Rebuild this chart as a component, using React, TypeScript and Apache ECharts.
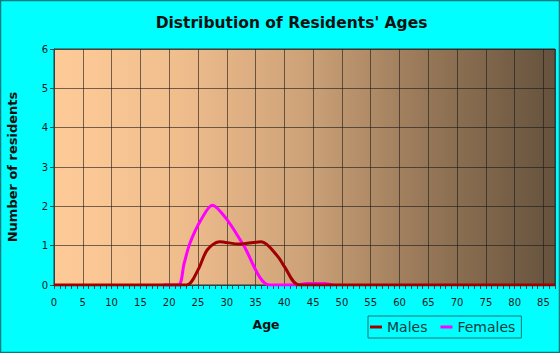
import React, { useEffect, useRef } from "react";
import * as echarts from "echarts";

const titleText = "Distribution of Residents' Ages";
const xName = "Age";
const yName = "Number of residents";
const seriesNames = ["Males", "Females"];

const maleAges = [0, 23, 25, 26.6, 28.7, 32.2, 36, 38.9, 40, 42.6, 87];
const maleCounts = [0, 0, 0.38, 0.89, 1.1, 1.04, 1.1, 0.72, 0.47, 0, 0];

const femaleAges = [19, 21.6, 22.6, 23.6, 25.5, 27.5, 30.1, 32.8, 37.4, 42, 44, 47, 48.5];
const femaleCounts = [0, 0, 0.55, 1.06, 1.65, 2.03, 1.65, 1.04, 0, 0, 0.04, 0.04, 0];

const yTicks = [0, 1, 2, 3, 4, 5, 6];
const xMin = 0;
const xMax = 87;

const pairs = (xs: number[], ys: number[]) => xs.map((x, i) => [x, ys[i]]);

export default function App() {
  const ref = useRef<HTMLDivElement>(null);
  useEffect(() => {
    if (!ref.current) return;
    const chart = echarts.init(ref.current, undefined, { renderer: "svg" });
    const axisColor = "#1d4a4a";
    const gridColor = "rgba(25,25,25,0.6)";
    chart.setOption({
      animation: false,
      backgroundColor: "#00FFFF",
      grid: {
        left: 54,
        right: 5,
        top: 49,
        bottom: 68,
        show: true,
        borderColor: "#333",
        borderWidth: 1,
        backgroundColor: new echarts.graphic.LinearGradient(0, 0, 1, 0, [
          { offset: 0, color: "#FECB98" },
          { offset: 0.25, color: "#F0BD8D" },
          { offset: 0.5, color: "#CDA278" },
          { offset: 0.75, color: "#957657" },
          { offset: 1, color: "#65523D" },
        ]),
      },
      xAxis: {
        type: "value",
        min: xMin,
        max: xMax,
        interval: 5,
        axisLine: { show: true, lineStyle: { color: axisColor, width: 1 } },
        axisTick: { show: true, length: 4, lineStyle: { color: axisColor, width: 1 } },
        minorTick: { show: true, splitNumber: 5, length: 4, lineStyle: { color: axisColor, width: 1 } },
        axisLabel: {
          color: "#1a1a1a",
          fontSize: 10,
          fontFamily: "DejaVu Sans",
          margin: 12,
          showMaxLabel: false,
        },
        splitLine: { show: true, lineStyle: { color: gridColor, width: 1 } },
      },
      yAxis: {
        type: "value",
        min: yTicks[0],
        max: yTicks[yTicks.length - 1],
        interval: 1,
        axisLine: { show: true, lineStyle: { color: axisColor, width: 1 } },
        axisTick: { show: true, length: 4, lineStyle: { color: axisColor } },
        axisLabel: {
          color: "#1a1a1a",
          fontSize: 10,
          fontFamily: "DejaVu Sans",
          margin: 6,
        },
        splitLine: { show: true, lineStyle: { color: gridColor, width: 1 } },
      },
      legend: {
        data: seriesNames,
        left: 368,
        top: 316,
        orient: "horizontal",
        padding: [4, 6, 4, 2],
        borderColor: "#1f7070",
        borderWidth: 1,
        itemWidth: 12,
        itemHeight: 3,
        itemGap: 13,
        icon: "rect",
        textStyle: { fontFamily: "DejaVu Sans", fontSize: 14, color: "#123c3c" },
      },
      graphic: [
        {
          type: "rect",
          shape: { x: 0.5, y: 0.5, width: 559, height: 352 },
          style: { fill: "none", stroke: "#0b7a7a", lineWidth: 1.5 },
          silent: true,
        },
        {
          type: "text",
          x: 291.5,
          y: 23,
          style: {
            text: titleText,
            fontFamily: "DejaVu Sans",
            fontWeight: "bold",
            fontSize: 15.5,
            fill: "#111",
            align: "center",
            verticalAlign: "middle",
          },
        },
        {
          type: "text",
          x: 12,
          y: 167,
          rotation: Math.PI / 2,
          style: {
            text: yName,
            fontFamily: "DejaVu Sans",
            fontWeight: "bold",
            fontSize: 13,
            fill: "#111",
            align: "center",
            verticalAlign: "middle",
          },
        },
        {
          type: "text",
          x: 266,
          y: 324,
          style: {
            text: xName,
            fontFamily: "DejaVu Sans",
            fontWeight: "bold",
            fontSize: 12.5,
            fill: "#111",
            align: "center",
            verticalAlign: "middle",
          },
        },
      ],
      series: [
        {
          name: seriesNames[0],
          type: "line",
          data: pairs(maleAges, maleCounts),
          smooth: 0.3,
          symbol: "none",
          showSymbol: false,
          z: 3,
          itemStyle: { color: "#A00000" },
          lineStyle: { color: "#A00000", width: 3 },
        },
        {
          name: seriesNames[1],
          type: "line",
          data: pairs(femaleAges, femaleCounts),
          smooth: 0.3,
          symbol: "none",
          showSymbol: false,
          z: 2,
          itemStyle: { color: "#FF00FF" },
          lineStyle: { color: "#FF00FF", width: 3 },
        },
      ],
    });
    return () => chart.dispose();
  }, []);
  return (
    <div
      ref={ref}
      style={{ position: "absolute", left: 0, top: 0, width: 560, height: 353 }}
    />
  );
}
